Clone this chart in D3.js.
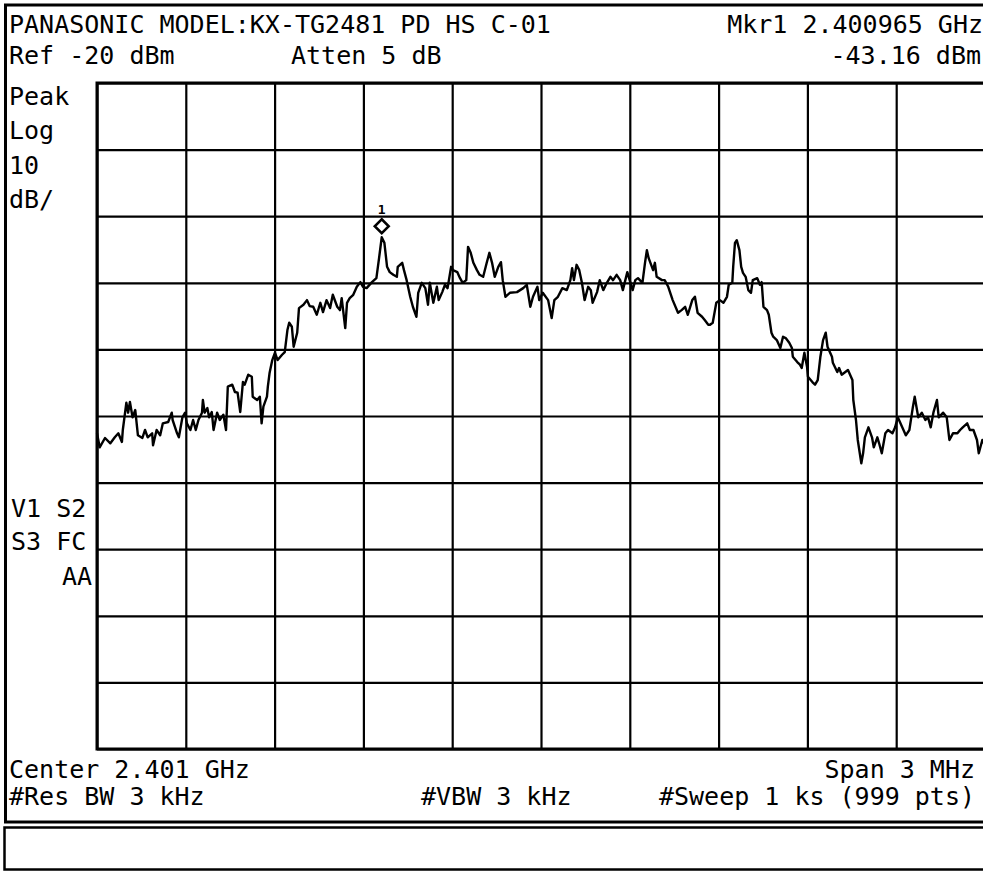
<!DOCTYPE html>
<html><head><meta charset="utf-8">
<script src="https://cdn.jsdelivr.net/npm/d3@7"></script>
<style>
html,body{margin:0;padding:0;background:#fff;}
svg{display:block;}
text{font-family:"DejaVu Sans Mono",monospace;font-size:25px;fill:#000;letter-spacing:0;}
</style></head><body>
<svg id="c" width="983" height="871"></svg>
<script>
// ---- data ----
const titleText = "PANASONIC MODEL:KX-TG2481 PD HS C-01";
const markerReadout = ["Mkr1 2.400965 GHz", "-43.16 dBm"];
const setupLine = ["Ref -20 dBm", "Atten 5 dB"];
const refLevel = -20, dbPerDiv = 10, numDivs = 10;
const sweepPoints = 999;
const leftLabels = ["Peak", "Log", "10", "dB/"];
const statusLabels = ["V1 S2", "S3 FC", "AA"];
const bottomLine1 = ["Center 2.401 GHz", "Span 3 MHz"];
const bottomLine2 = ["#Res BW 3 kHz", "#VBW 3 kHz", "#Sweep 1 ks (999 pts)"];
const markerPoint = {idx: 320, level: -43.16, label: "1"};
// [sweep point index, level dBm]
const tracePoints = [
[0,-72.6],[3,-74.7],[9,-73.3],[15,-74.1],[20,-73.2],[24,-72.6],[28,-73.9],[29,-72.1],[33,-68.0],[35,-69.5],
[37,-67.9],[40,-70.2],[43,-69.1],[46,-72.9],[51,-73.3],[54,-72.1],[57,-73.2],[62,-72.6],[63,-74.4],[67,-72.1],
[71,-72.9],[74,-71.1],[80,-70.9],[84,-69.5],[85,-70.6],[90,-72.6],[92,-73.2],[96,-70.2],[99,-69.5],[101,-71.1],
[105,-72.1],[108,-70.6],[111,-72.1],[114,-70.6],[118,-69.5],[119,-67.6],[121,-69.5],[124,-68.8],[126,-70.2],[129,-69.4],
[131,-72.1],[135,-69.5],[138,-70.6],[142,-69.8],[145,-72.1],[147,-65.6],[152,-65.3],[155,-66.4],[158,-66.5],[161,-69.4],
[164,-64.9],[166,-65.3],[170,-63.8],[174,-64.1],[175,-67.1],[180,-67.6],[183,-67.1],[185,-71.1],[187,-68.6],[191,-67.1],
[192,-65.6],[194,-63.5],[197,-61.6],[200,-60.5],[203,-61.6],[208,-60.8],[211,-60.4],[214,-57.1],[216,-56.0],[219,-56.6],
[221,-59.6],[225,-57.5],[227,-53.8],[232,-53.3],[236,-52.6],[239,-53.5],[243,-53.6],[247,-54.8],[251,-53.0],[254,-54.4],
[258,-52.6],[262,-53.8],[265,-51.8],[270,-53.6],[273,-54.1],[275,-52.3],[279,-56.8],[281,-53.0],[284,-52.3],[288,-51.8],
[292,-50.6],[296,-49.9],[299,-50.6],[303,-50.8],[309,-49.9],[314,-49.3],[317,-46.3],[320,-43.16],[323,-44.0],[326,-47.6],
[329,-48.4],[333,-48.8],[337,-49.1],[338,-47.6],[343,-47.0],[345,-48.1],[348,-49.6],[352,-52.1],[355,-53.6],[359,-55.1],
[361,-51.5],[365,-50.0],[369,-50.8],[372,-53.3],[374,-50.0],[378,-53.0],[382,-50.6],[384,-52.6],[388,-51.4],[391,-50.3],
[394,-50.8],[398,-47.6],[400,-48.1],[405,-48.4],[408,-49.3],[411,-50.0],[415,-49.6],[417,-44.6],[420,-45.5],[423,-47.0],
[427,-48.1],[430,-48.8],[434,-49.1],[438,-47.0],[441,-45.5],[444,-47.0],[447,-49.1],[451,-47.6],[454,-46.9],[456,-49.6],
[459,-52.1],[464,-51.5],[472,-51.4],[479,-50.8],[483,-50.3],[487,-53.6],[490,-52.1],[495,-50.6],[497,-52.6],[501,-51.5],
[507,-52.6],[511,-55.3],[514,-52.6],[518,-52.1],[523,-50.8],[528,-51.1],[532,-49.6],[534,-47.8],[536,-49.6],[539,-47.3],
[542,-48.1],[545,-50.0],[548,-52.6],[552,-50.6],[555,-51.1],[557,-53.0],[562,-51.4],[565,-49.6],[569,-51.1],[573,-50.0],
[577,-49.1],[580,-49.6],[584,-48.8],[588,-49.6],[591,-51.1],[596,-48.4],[598,-49.3],[602,-51.1],[605,-49.6],[608,-49.3],
[613,-50.0],[616,-46.9],[618,-45.1],[620,-46.3],[625,-48.1],[627,-47.0],[629,-49.1],[635,-49.6],[638,-49.6],[642,-50.6],
[647,-52.6],[653,-54.5],[657,-54.1],[661,-53.6],[664,-54.8],[669,-52.6],[672,-52.1],[675,-54.5],[680,-55.1],[683,-55.6],
[687,-56.3],[689,-56.3],[692,-56.0],[696,-53.0],[700,-52.6],[704,-53.0],[708,-52.1],[710,-50.3],[714,-50.0],[715,-47.6],
[717,-44.0],[719,-43.6],[722,-45.1],[724,-47.6],[726,-48.5],[729,-49.1],[732,-51.1],[735,-51.5],[737,-49.6],[742,-49.3],
[745,-50.3],[747,-49.9],[749,-53.6],[753,-54.1],[755,-54.8],[758,-57.5],[760,-58.1],[764,-58.6],[768,-59.8],[771,-58.1],
[774,-58.3],[778,-59.0],[781,-59.8],[782,-61.1],[787,-61.9],[790,-62.3],[792,-62.8],[795,-60.5],[798,-62.6],[799,-64.1],
[804,-64.9],[807,-65.3],[810,-64.6],[813,-61.1],[816,-58.6],[819,-57.5],[821,-59.6],[826,-61.1],[827,-62.0],[832,-63.4],
[834,-62.8],[837,-63.8],[841,-63.4],[844,-63.1],[849,-64.6],[850,-67.6],[853,-70.6],[855,-73.6],[859,-77.1],[861,-75.6],
[863,-73.2],[867,-71.7],[871,-73.2],[873,-74.7],[877,-73.2],[879,-74.1],[882,-75.6],[886,-72.6],[889,-72.1],[894,-72.6],
[897,-71.7],[900,-70.2],[905,-71.7],[909,-72.9],[913,-72.1],[917,-68.6],[919,-67.1],[923,-70.2],[927,-69.5],[931,-70.6],
[934,-70.2],[937,-71.7],[940,-69.5],[944,-67.6],[946,-70.2],[951,-69.5],[955,-70.2],[958,-73.6],[962,-72.6],[967,-72.6],
[970,-72.1],[973,-71.7],[978,-71.1],[981,-72.1],[985,-72.1],[989,-73.6],[991,-75.6],[995,-73.6],[998,-74.4]
];

// ---- drawing ----
const svg = d3.select("#c");
const G = {left: 97, top: 83, width: 888, height: 666};

const x = d3.scaleLinear().domain([0, sweepPoints - 1]).range([G.left, G.left + G.width]);
const y = d3.scaleLinear().domain([refLevel - dbPerDiv * numDivs, refLevel]).range([G.top + G.height, G.top]);
const xDiv = d3.scaleLinear().domain([0, numDivs]).range([G.left, G.left + G.width]);

// outer frames
svg.append("rect").attr("x", 5.5).attr("y", 5).attr("width", 1000).attr("height", 817)
  .attr("fill", "none").attr("stroke", "#000").attr("stroke-width", 3);
svg.append("rect").attr("x", 4.5).attr("y", 827.5).attr("width", 1000).attr("height", 42)
  .attr("fill", "none").attr("stroke", "#000").attr("stroke-width", 2.5);

// graticule via axes
const gx = svg.append("g").attr("transform", `translate(0,${G.top + G.height})`)
  .call(d3.axisBottom(xDiv).tickValues(d3.range(0, numDivs + 1)).tickSize(-G.height).tickFormat(""));
const gy = svg.append("g").attr("transform", `translate(${G.left},0)`)
  .call(d3.axisLeft(y).tickValues(d3.range(refLevel - dbPerDiv * numDivs, refLevel + 1, dbPerDiv)).tickSize(-G.width).tickFormat(""));
[gx, gy].forEach(g => {
  g.select(".domain").remove();
  g.selectAll(".tick line").attr("stroke", "#000").attr("stroke-width", 2.2);
});
svg.append("rect").attr("x", G.left).attr("y", G.top).attr("width", G.width).attr("height", G.height)
  .attr("fill", "none").attr("stroke", "#000").attr("stroke-width", 3);

// trace
const line = d3.line().x(d => x(d[0])).y(d => y(d[1]));
svg.append("path").datum(tracePoints).attr("d", line)
  .attr("fill", "none").attr("stroke", "#000").attr("stroke-width", 2.4).attr("stroke-linejoin", "round");

// marker
const mx = x(markerPoint.idx), my = y(markerPoint.level) - 11;
svg.append("path")
  .attr("d", `M${mx},${my - 7}L${mx + 7},${my}L${mx},${my + 7}L${mx - 7},${my}Z`)
  .attr("fill", "#fff").attr("stroke", "#000").attr("stroke-width", 2.5);
svg.append("text").attr("x", mx).attr("y", my - 12).attr("text-anchor", "middle")
  .style("font-size", "13px").style("font-weight", "bold").text(markerPoint.label);

// texts
function txt(s, tx, ty, anchor) {
  svg.append("text").attr("x", tx).attr("y", ty).attr("text-anchor", anchor || "start").text(s);
}
txt(titleText, 9, 33);
txt(markerReadout[0], 983, 33, "end");
txt(setupLine[0], 9, 64);
txt(setupLine[1], 291, 64);
txt(markerReadout[1], 981, 64, "end");
leftLabels.forEach((s, i) => txt(s, 9, 105 + i * 34.3));
txt(statusLabels[0], 11, 517);
txt(statusLabels[1], 11, 550);
txt(statusLabels[2], 92, 585, "end");
txt(bottomLine1[0], 9, 778);
txt(bottomLine1[1], 975, 778, "end");
txt(bottomLine2[0], 9, 805);
txt(bottomLine2[1], 421, 805);
txt(bottomLine2[2], 975, 805, "end");
</script>
</body></html>
